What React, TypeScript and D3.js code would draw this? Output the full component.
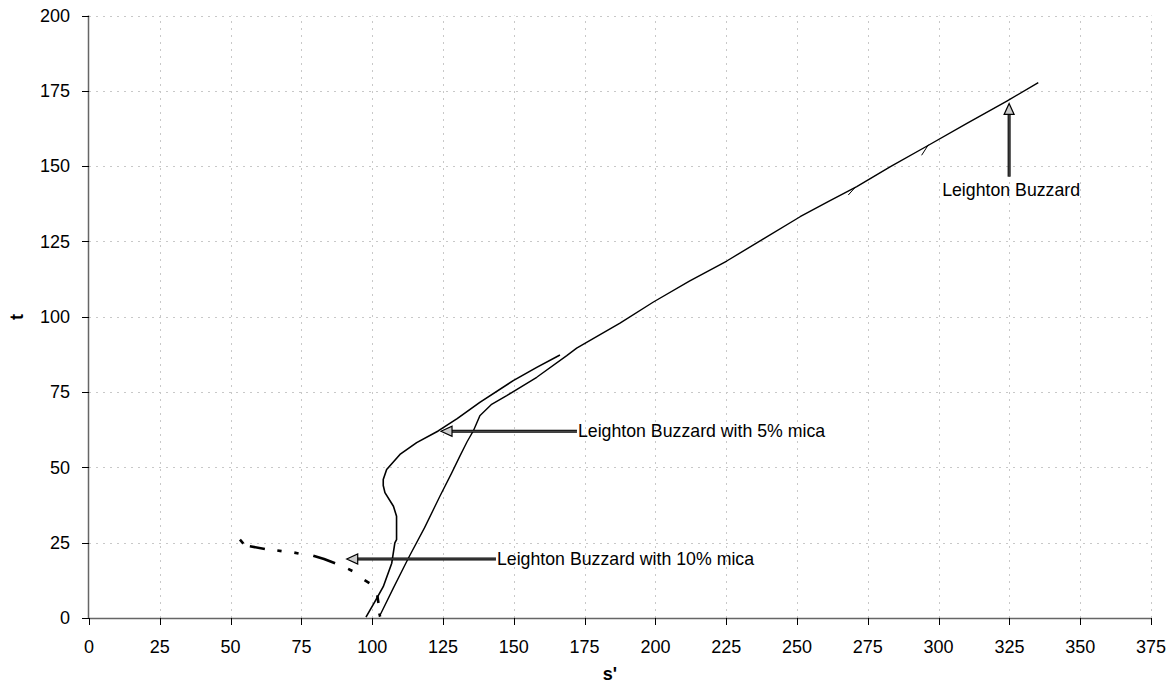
import React from 'react';
import * as d3 from 'd3';

// --- DATA ---
const xTicks = [0, 25, 50, 75, 100, 125, 150, 175, 200, 225, 250, 275, 300, 325, 350, 375];
const yTicks = [0, 25, 50, 75, 100, 125, 150, 175, 200];

// Leighton Buzzard (s', t)
const lbCurve: [number, number][] = [
  [102.5, 0.4], [107.5, 10.0], [112.8, 19.9], [118.5, 30.0], [123.9, 40.4], [128.0, 48.0],
  [131.0, 53.8], [133.5, 58.5], [135.7, 62.1], [138.0, 67.1], [142.0, 70.8], [147.5, 73.8],
  [158.1, 79.9], [168.7, 87.1], [172.2, 89.6], [187.5, 97.9], [199.3, 104.9], [212.0, 111.8],
  [225.2, 118.5], [238.0, 125.8], [251.1, 133.2], [261.0, 138.2], [271.1, 143.2], [283.0, 149.8],
  [295.8, 156.6], [310.0, 164.2], [324.1, 171.6], [335.2, 177.7],
];
// small unloading hooks on the Leighton Buzzard line
const lbHooks: [number, number][][] = [
  [[268.1, 140.4], [270.5, 142.9]],
  [[294.0, 153.6], [296.4, 157.1]],
];

// Leighton Buzzard with 5% mica
const mica5Curve: [number, number][] = [
  [97.8, 0.3], [101.0, 5.5], [103.9, 10.4], [106.9, 18.2], [108.0, 24.9], [108.6, 26.0],
  [108.6, 33.8], [107.5, 37.1], [104.5, 41.6], [103.9, 44.0], [103.9, 46.0], [105.1, 49.3],
  [109.8, 54.3], [115.7, 58.2], [123.3, 62.1], [130.0, 66.2], [138.0, 71.6], [149.8, 78.8],
  [158.1, 83.2], [166.3, 87.3],
];

// Leighton Buzzard with 10% mica (broken record)
const mica10Segments: [number, number][][] = [
  [[53.3, 26.0], [54.5, 24.7]],
  [[56.8, 23.8], [62.1, 22.9]],
  [[66.5, 22.4], [68.0, 22.2]],
  [[72.5, 21.7], [74.0, 21.4]],
  [[79.2, 20.7], [83.0, 19.6], [86.9, 18.2]],
  [[91.5, 16.3], [93.0, 15.6]],
  [[97.3, 12.6], [99.0, 11.6]],
  [[101.8, 7.5], [102.2, 5.0]],
  [[102.5, 1.5], [102.8, 0.5]],
];

// annotations: label, arrow tail (s', t), arrow tip (s', t)
const annotations = [
  { label: 'Leighton Buzzard', tail: [324.9, 146.5], tip: [324.9, 170.8], anchor: 'middle' },
  { label: 'Leighton Buzzard with 5% mica', tail: [172.3, 62.0], tip: [124.3, 62.0], anchor: 'start' },
  { label: 'Leighton Buzzard with 10% mica', tail: [143.7, 19.6], tip: [91.0, 19.6], anchor: 'start' },
];

const W = 1175;
const H = 697;
const margin = { top: 15.5, right: 24, bottom: 79, left: 89 };
const FONT = '"Liberation Sans", Arial, Helvetica, sans-serif';

export default function App() {
  const x = d3.scaleLinear().domain([0, 375]).range([margin.left, W - margin.right]);
  const y = d3.scaleLinear().domain([0, 200]).range([H - margin.bottom, margin.top]);
  const line = d3.line<[number, number]>().x(d => x(d[0])).y(d => y(d[1]));

  const x0 = x(0), y0 = y(0);

  const arrow = (a: typeof annotations[number], i: number) => {
    const tx = x(a.tail[0]), ty = y(a.tail[1]);
    const px = x(a.tip[0]), py = y(a.tip[1]);
    const ang = Math.atan2(py - ty, px - tx);
    const len = 11, half = 5;
    const bx = px - len * Math.cos(ang), by = py - len * Math.sin(ang);
    const nx = -Math.sin(ang), ny = Math.cos(ang);
    const head = `${px},${py} ${bx + nx * half},${by + ny * half} ${bx - nx * half},${by - ny * half}`;
    // text placement
    let lx = tx + 1, ly = ty + 6;
    if (a.anchor === 'middle') { lx = tx + 2; ly = ty + 19; }
    return (
      <g key={i}>
        <line x1={tx} y1={ty} x2={bx} y2={by} stroke="#000" strokeWidth={3} />
        <line x1={tx} y1={ty} x2={bx} y2={by} stroke="#777" strokeWidth={0.8} />
        <polygon points={head} fill="#ccc" stroke="#000" strokeWidth={1.2} />
        <text x={lx} y={ly} fontSize={18} fontFamily={FONT} textAnchor={a.anchor} fill="#000"
          transform={`translate(${lx},0) scale(0.985,1) translate(${-lx},0)`}>
          {a.label}
        </text>
      </g>
    );
  };

  return (
    <div style={{ position: 'absolute', left: 0, top: 0 }}>
      <style>{'body{margin:0}'}</style>
      <svg width={W} height={H} style={{ display: 'block', background: '#fff' }}>
        {/* grid */}
        <g stroke="#c8c8c8" strokeWidth={1} strokeDasharray="2,5">
          {yTicks.filter(t => t > 0).map(t => (
            <line key={'gy' + t} x1={x0} x2={x(375)} y1={Math.round(y(t)) + 0.5} y2={Math.round(y(t)) + 0.5} />
          ))}
          {xTicks.filter(t => t > 0).map(t => (
            <line key={'gx' + t} x1={Math.round(x(t)) + 0.5} x2={Math.round(x(t)) + 0.5} y1={y0} y2={y(200)} />
          ))}
        </g>

        {/* axes */}
        <line x1={x0 - 0.5} x2={x0 - 0.5} y1={y(200)} y2={y0} stroke="#666" strokeWidth={1.5} />
        <line x1={x0} x2={x(375)} y1={y0 + 0.5} y2={y0 + 0.5} stroke="#666" strokeWidth={1.5} />
        <g stroke="#000" strokeWidth={1}>
          {yTicks.map(t => (
            <line key={'ty' + t} x1={x0 - 7} x2={x0} y1={Math.round(y(t)) + 0.5} y2={Math.round(y(t)) + 0.5} />
          ))}
          {xTicks.map(t => (
            <line key={'tx' + t} x1={Math.round(x(t)) + 0.5} x2={Math.round(x(t)) + 0.5} y1={y0} y2={y0 + 7} />
          ))}
        </g>
        <g fontFamily={FONT} fontSize={18} fill="#000">
          {yTicks.map(t => (
            <text key={'ly' + t} x={x0 - 19} y={y(t)} dy="0.35em" textAnchor="end">{t}</text>
          ))}
          {xTicks.map(t => (
            <text key={'lx' + t} x={x(t)} y={y0 + 35} textAnchor="middle">{t}</text>
          ))}
        </g>
        <text x={610} y={680} textAnchor="middle" fontFamily={FONT} fontSize={18} fontWeight="bold">s'</text>
        <text transform={`translate(23,${317}) rotate(-90)`} textAnchor="middle" fontFamily={FONT} fontSize={18} fontWeight="bold">t</text>

        {/* series */}
        <g fill="none" stroke="#000" strokeLinejoin="round">
          <path d={line(lbCurve) || ''} strokeWidth={1.4} />
          {lbHooks.map((h, i) => <path key={'h' + i} d={line(h) || ''} strokeWidth={1} />)}
          <path d={line(mica5Curve) || ''} strokeWidth={1.6} />
          {mica10Segments.map((s, i) => (
            <path key={'m' + i} d={line(s) || ''} strokeWidth={2.6} strokeLinecap="butt" />
          ))}
        </g>

        {/* annotations */}
        {annotations.map(arrow)}
      </svg>
    </div>
  );
}
